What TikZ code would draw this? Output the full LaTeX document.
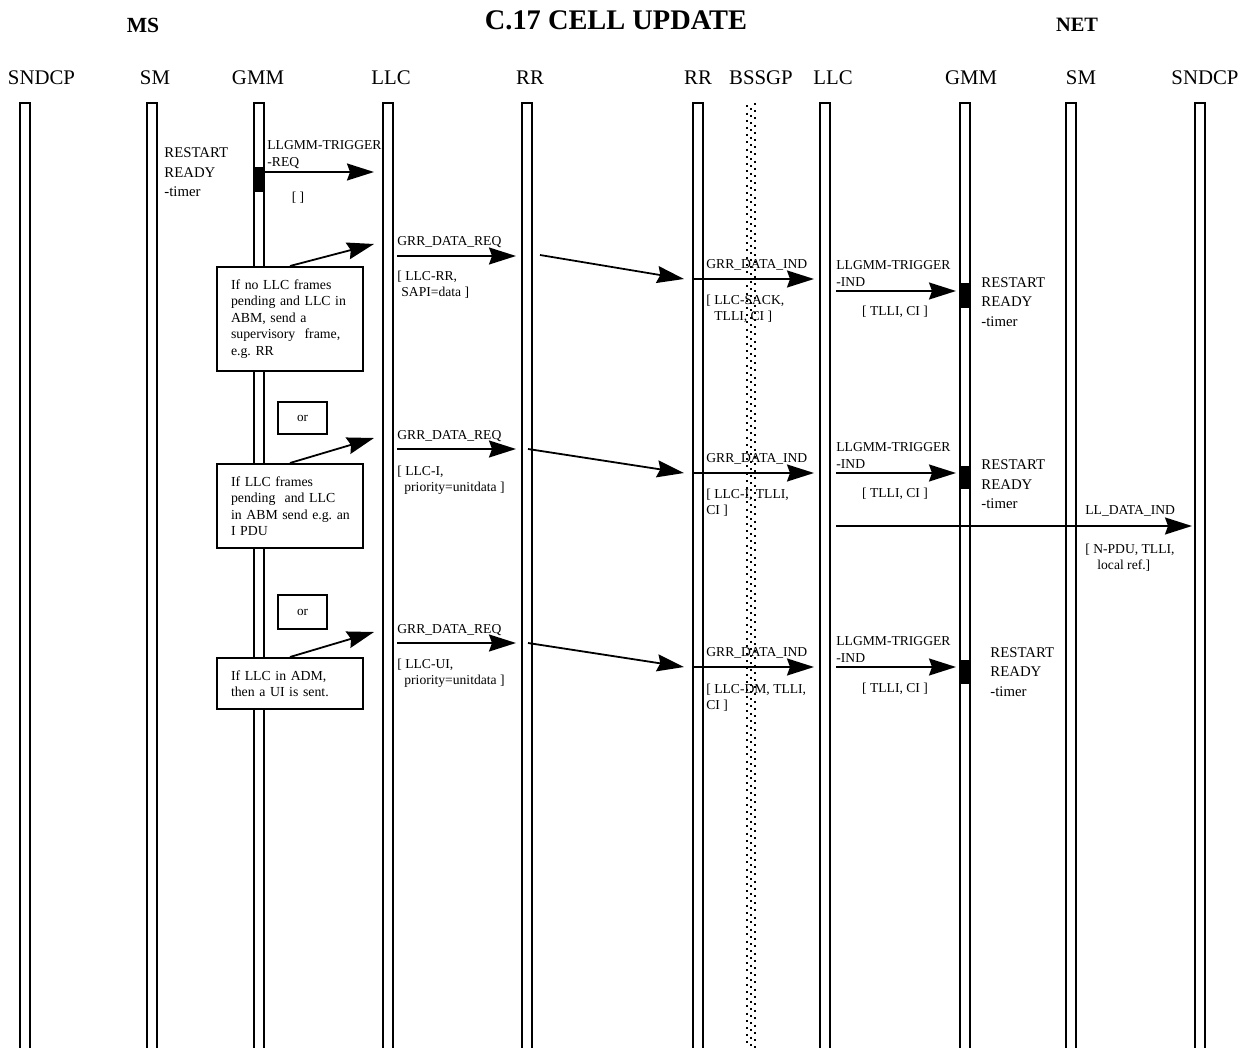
\documentclass[tikz,border=0pt]{standalone}
\usepackage{fontspec}
\setmainfont{Liberation Serif}
\usetikzlibrary{arrows.meta}
\frenchspacing

\begin{document}
\begin{tikzpicture}[x=0.5pt, y=-0.5pt,
  bar/.style={line width=1pt},
  sig/.style={line width=0.9pt, -{Stealth[length=13.5pt, width=8.5pt, inset=1.5pt]}},
  head/.style={font=\fontsize{10.4}{12}\selectfont},
  msg/.style={font=\fontsize{6.8}{8.5}\selectfont, anchor=west, align=left, inner sep=0pt},
  prm/.style={font=\fontsize{6.8}{8}\selectfont, anchor=west, align=left, inner sep=0pt},
  timer/.style={font=\fontsize{7.4}{9.75}\selectfont, anchor=west, align=left, inner sep=0pt},
  cond/.style={draw, line width=1pt, fill=white, font=\fontsize{6.9}{8.25}\selectfont,
    align=left, text width=59pt, inner xsep=7pt, inner ysep=0pt, minimum width=73pt},
  orbox/.style={draw, line width=1pt, fill=white, font=\fontsize{6.6}{8}\selectfont,
    minimum width=24.5pt, inner sep=0pt}
]
\useasboundingbox (0,0) rectangle (1238,1048);
\clip (0,0) rectangle (1238,1048);

% Title and sides
\node[font=\fontsize{14.2}{16}\selectfont\bfseries] (title) at (616,20) {C.17 CELL UPDATE};
\node[font=\fontsize{10.8}{12}\selectfont\bfseries] (ms) at (143,25) {MS};
\node[font=\fontsize{10.2}{12}\selectfont\bfseries] (net) at (1077,25) {NET};

% Lifelines and their labels
\foreach \x/\lx/\n/\l in {24.5/41.5/sndcpA/SNDCP, 152/155/smA/SM, 259/258/gmmA/GMM,
    388/391/llcA/LLC, 527/530/rrA/RR, 698/698/rrB/RR, 825/833/llcB/LLC,
    965/971/gmmB/GMM, 1071/1081/smB/SM, 1200/1205/sndcpB/SNDCP} {
  \draw[bar] ({\x-5},1052) -- ({\x-5},103) -- ({\x+5},103) -- ({\x+5},1052);
  \node[head] (\n) at (\lx,78) {\l};
}

% BSSGP (dotted band)
\node[head] (bssgp) at (761,78) {BSSGP};
\foreach \dx/\ph in {-4/2.4pt, 0/1.2pt, 4/0pt}
  \draw[line width=1pt, dash pattern=on 1pt off 2.6pt, dash phase=\ph] ({751+\dx},103) -- ({751+\dx},1052);

% Timer blocks on GMM
\foreach \x/\a/\b in {259/167/192, 965/283/308, 965/466/489, 965/660/684}
  \fill ({\x-5},\a) rectangle ({\x+5},\b);

% MS: restart of READY timer
\node[timer] (tmA) at (164,172.5) {RESTART\\READY\\-timer};
\node[msg] (trigReq) at (267,155) {LLGMM-TRIGGER\\-REQ};
\coordinate (trA) at (265,172); \coordinate (trB) at (374,172);
\draw[sig] (trA) -- (trB);
\node[prm, anchor=center] (trPar) at (298,198) {[ ]};

% Case 1: supervisory frame
\node[cond, minimum height=52pt] (box1) at (290,319)
  {If no LLC frames\\pending and LLC in\\ABM, send a\\supervisory\ \ frame,\\e.g. RR};
\coordinate (d1) at (374,244);
\draw[sig] (box1.north) -- (d1);
\node[msg] (reqA) at (397,242) {GRR\_DATA\_REQ};
\coordinate (rqA1) at (397,256); \coordinate (rqA2) at (516,256);
\draw[sig] (rqA1) -- (rqA2);
\node[prm] (reqAp) at (397,285) {[ LLC-RR,\\\hspace{2pt}SAPI=data ]};
\coordinate (aA1) at (540,255); \coordinate (aA2) at (684,279);
\draw[sig] (aA1) -- (aA2);
\node[msg] (indA) at (706,265) {GRR\_DATA\_IND};
\coordinate (inA1) at (693,279); \coordinate (inA2) at (814,279);
\draw[sig] (inA1) -- (inA2);
\node[prm] (indAp) at (706,309) {[ LLC-SACK,\\\hspace{4pt}TLLI, CI ]};
\node[msg] (trigA) at (836,273.5) {LLGMM-TRIGGER\\-IND};
\coordinate (tgA1) at (836,291); \coordinate (tgA2) at (956,291);
\draw[sig] (tgA1) -- (tgA2);
\node[prm, anchor=center] (trigAp) at (895,312) {[ TLLI, CI ]};
\node[timer] (tmB) at (981,302) {RESTART\\READY\\-timer};

% Case 2: I frame
\node[orbox, minimum height=16pt] (or1) at (302.5,418) {or};
\node[cond, minimum height=42pt] (box2) at (290,506)
  {If LLC frames\\pending\ \ and LLC\\\mbox{in ABM send e.g. an}\\I PDU};
\coordinate (d2) at (374,438);
\draw[sig] (box2.north) -- (d2);
\node[msg] (reqB) at (397,436) {GRR\_DATA\_REQ};
\coordinate (rqB1) at (397,449); \coordinate (rqB2) at (516,449);
\draw[sig] (rqB1) -- (rqB2);
\node[prm] (reqBp) at (397,480) {[ LLC-I,\\\hspace{3.5pt}priority=unitdata ]};
\coordinate (aB1) at (528,449); \coordinate (aB2) at (684,473);
\draw[sig] (aB1) -- (aB2);
\node[msg] (indB) at (706,459) {GRR\_DATA\_IND};
\coordinate (inB1) at (693,473); \coordinate (inB2) at (814,473);
\draw[sig] (inB1) -- (inB2);
\node[prm] (indBp) at (706,503) {[ LLC-I, TLLI,\\CI ]};
\node[msg] (trigB) at (836,455.5) {LLGMM-TRIGGER\\-IND};
\coordinate (tgB1) at (836,473); \coordinate (tgB2) at (956,473);
\draw[sig] (tgB1) -- (tgB2);
\node[prm, anchor=center] (trigBp) at (895,494) {[ TLLI, CI ]};
\node[timer] (tmC) at (981,484.5) {RESTART\\READY\\-timer};
\node[msg] (llData) at (1085,511) {LL\_DATA\_IND};
\coordinate (ld1) at (836,526); \coordinate (ld2) at (1192,526);
\draw[sig] (ld1) -- (ld2);
\node[prm] (llDatap) at (1085,558) {[ N-PDU, TLLI,\\\hspace{6pt}local ref.]};

% Case 3: UI frame
\node[orbox, minimum height=17pt] (or2) at (302.5,612) {or};
\node[cond, minimum height=25.5pt] (box3) at (290,683.5)
  {If LLC in ADM,\\then a UI is sent.};
\coordinate (d3) at (374,632);
\draw[sig] (box3.north) -- (d3);
\node[msg] (reqC) at (397,630) {GRR\_DATA\_REQ};
\coordinate (rqC1) at (397,643); \coordinate (rqC2) at (516,643);
\draw[sig] (rqC1) -- (rqC2);
\node[prm] (reqCp) at (397,673.5) {[ LLC-UI,\\\hspace{3.5pt}priority=unitdata ]};
\coordinate (aC1) at (528,643); \coordinate (aC2) at (684,667);
\draw[sig] (aC1) -- (aC2);
\node[msg] (indC) at (706,653) {GRR\_DATA\_IND};
\coordinate (inC1) at (693,667); \coordinate (inC2) at (814,667);
\draw[sig] (inC1) -- (inC2);
\node[prm] (indCp) at (706,697.5) {[ LLC-DM, TLLI,\\CI ]};
\node[msg] (trigC) at (836,649.5) {LLGMM-TRIGGER\\-IND};
\coordinate (tgC1) at (836,667); \coordinate (tgC2) at (956,667);
\draw[sig] (tgC1) -- (tgC2);
\node[prm, anchor=center] (trigCp) at (895,689) {[ TLLI, CI ]};
\node[timer] (tmD) at (990,672) {RESTART\\READY\\-timer};

\end{tikzpicture}
\end{document}
